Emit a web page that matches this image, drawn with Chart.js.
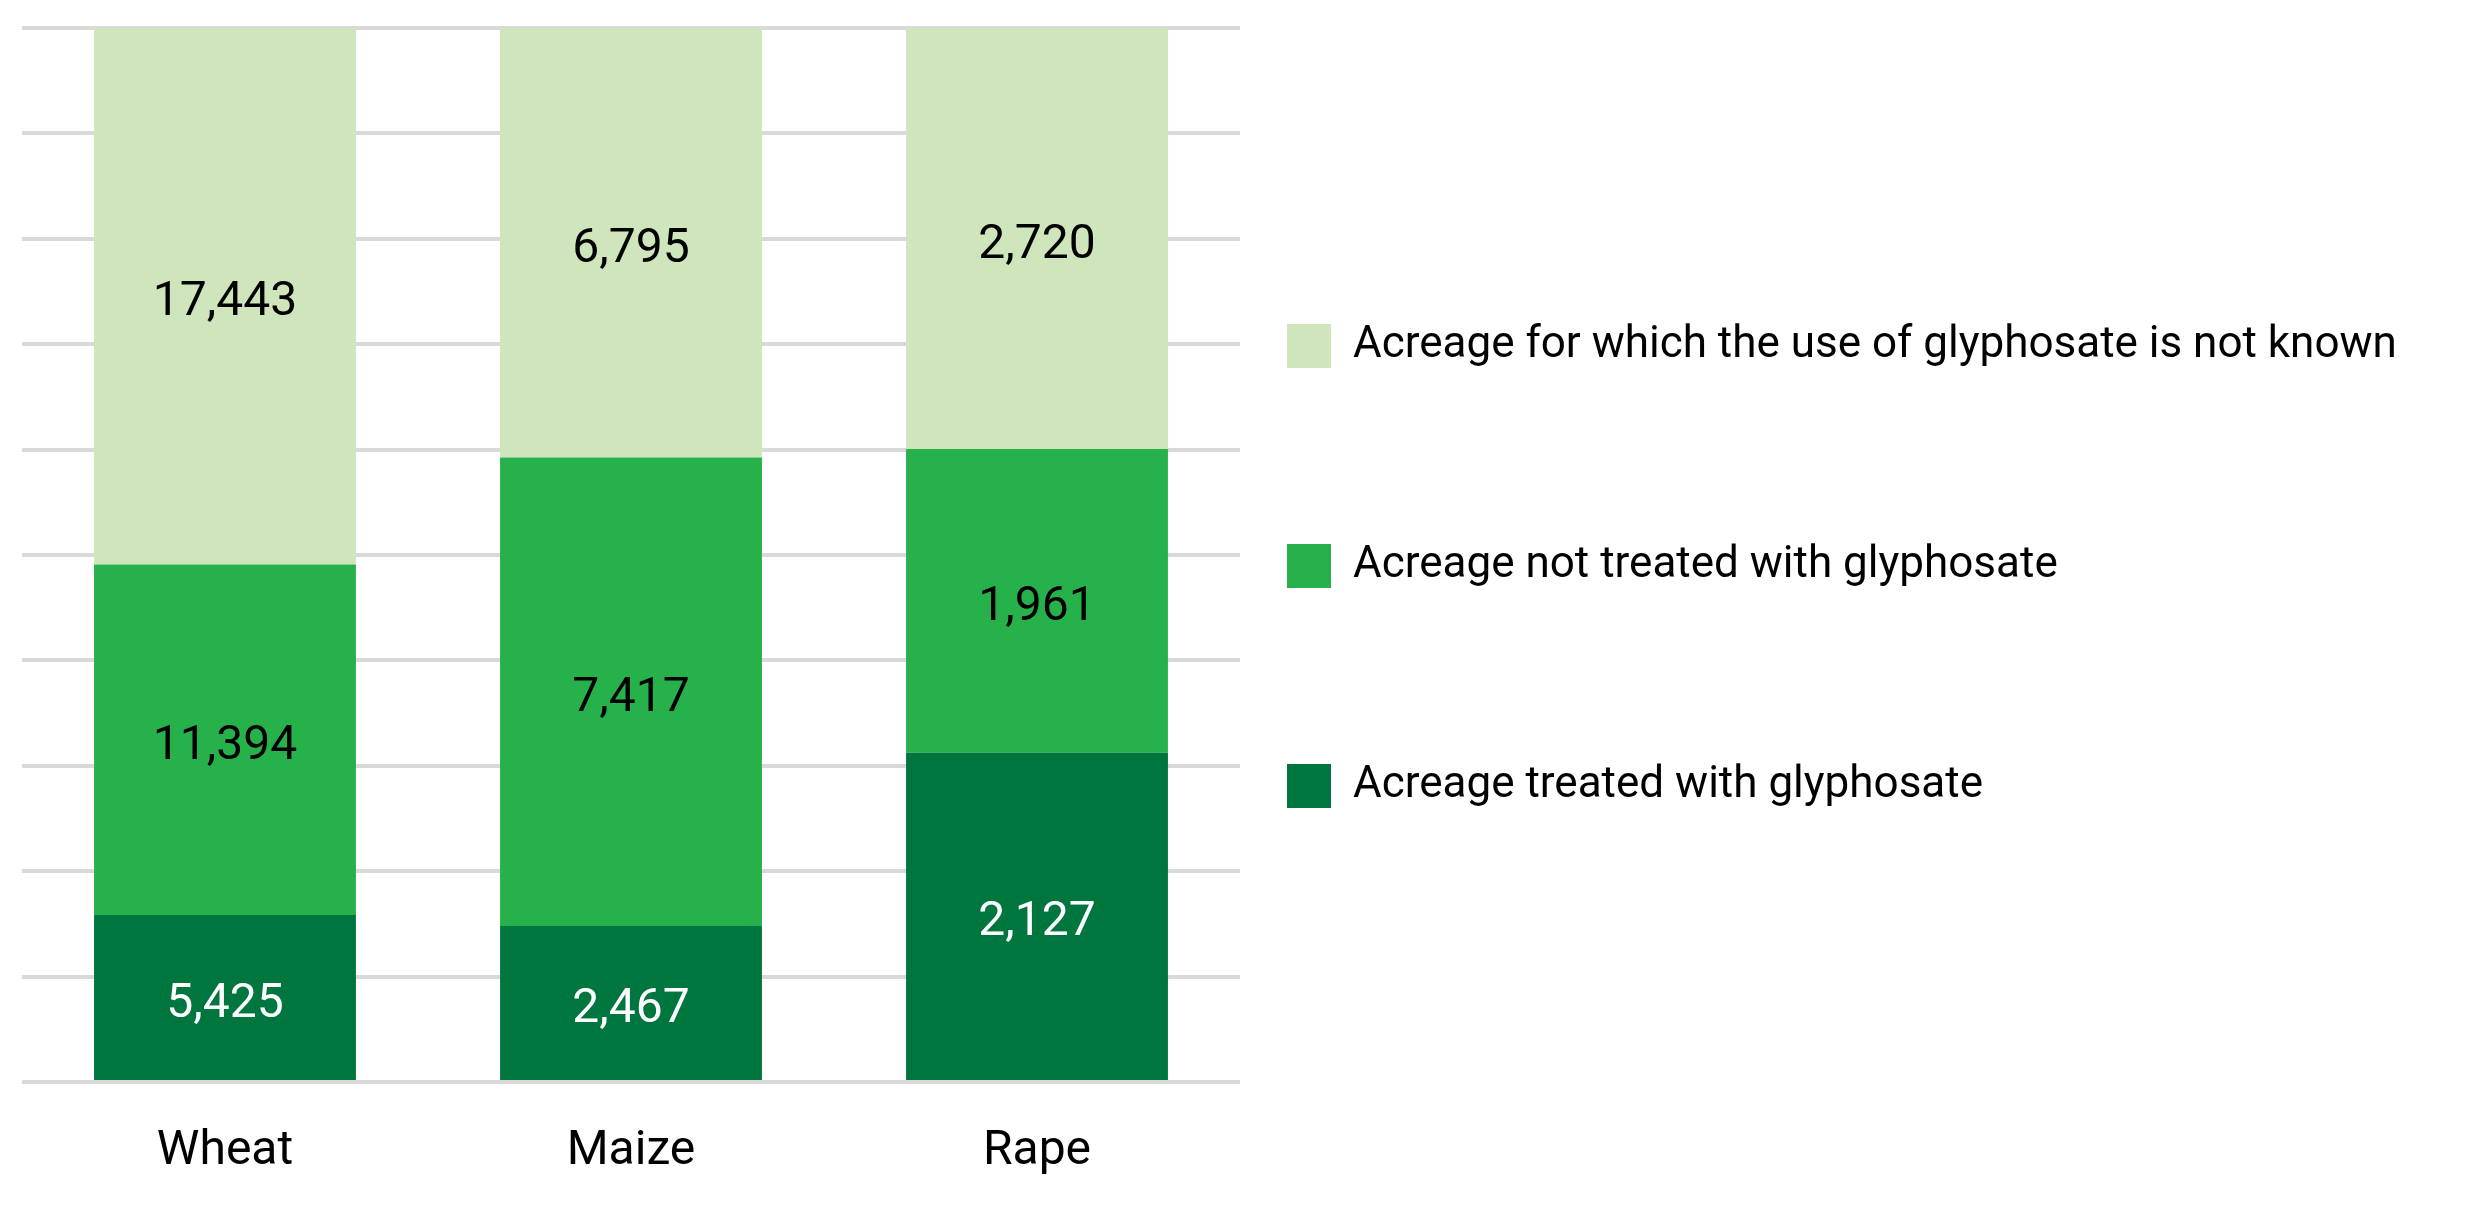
<!DOCTYPE html>
<html>
<head>
<meta charset="utf-8">
<script src="https://cdn.jsdelivr.net/npm/chart.js@4.4.1/dist/chart.umd.min.js"></script>
<style>
    body{ margin: 0; background: #fff; }
    #wrap{ width: 2470px; height: 1206px; position: relative; }
</style>
</head>
<body>
<div id="wrap"><canvas id="chart"></canvas></div>
<script>
const crops = ['Wheat', 'Maize', 'Rape'];
const treated = [5425, 2467, 2127];
const notTreated = [11394, 7417, 1961];
const unknown = [17443, 6795, 2720];
const yTicks = [0, 10, 20, 30, 40, 50, 60, 70, 80, 90, 100];

const labelNames = [
    'Acreage treated with glyphosate',
    'Acreage not treated with glyphosate',
    'Acreage for which the use of glyphosate is not known'
];

const totals = crops.map((c, i) => treated[i] + notTreated[i] + unknown[i]);
function share(arr){
    return arr.map((v, i) => v / totals[i] * 100);
}

const FONT = 'Roboto';
const SIZE = 48;
const LEGEND_SIZE = 44;

// width of the longest legend text, so the plot ends where the reference does
const mctx = document.createElement('canvas').getContext('2d');
mctx.font = LEGEND_SIZE + 'px ' + FONT;
const textW = Math.max(...labelNames.map(t => mctx.measureText(t).width));
const legendGap = 47;
const padRight = Math.max(0, 2470 - 1240 - (legendGap + 44 + LEGEND_SIZE / 2 + textW + 10));

const valueLabels = {
    id: 'valueLabels',
    afterDatasetsDraw(chart){
        const ctx = chart.ctx;
        ctx.save();
        ctx.font = SIZE + 'px ' + FONT;
        ctx.textAlign = 'center';
        ctx.textBaseline = 'middle';
        chart.data.datasets.forEach((ds, i) => {
            const meta = chart.getDatasetMeta(i);
            ctx.fillStyle = ds.labelColor;
            meta.data.forEach((bar, j) => {
                const p = bar.getCenterPoint();
                ctx.fillText(ds.raw[j].toLocaleString('en-US'), p.x, p.y + 7);
            });
        });
        ctx.restore();
    }
};

Chart.defaults.font.family = FONT;
Chart.defaults.color = '#000';

new Chart('chart', {
    type: 'bar',
    data: {
        labels: crops,
        datasets: [
            {
                label: labelNames[0],
                raw: treated,
                data: share(treated),
                backgroundColor: '#00763f',
                labelColor: '#fff'
            },
            {
                label: labelNames[1],
                raw: notTreated,
                data: share(notTreated),
                backgroundColor: '#26b14b',
                labelColor: '#000'
            },
            {
                label: labelNames[2],
                raw: unknown,
                data: share(unknown),
                backgroundColor: '#cfe5bb',
                labelColor: '#000'
            }
        ]
    },
    options: {
        responsive: true,
        maintainAspectRatio: false,
        animation: false,
        devicePixelRatio: 1,
        layout: {
            padding: { left: 22, top: 28, bottom: 0, right: padRight }
        },
        datasets: {
            bar: {
                barPercentage: 0.645,
                categoryPercentage: 1,
                borderWidth: 0
            }
        },
        scales: {
            x: {
                stacked: true,
                grid: { display: false, drawTicks: false },
                border: { display: false },
                ticks: { font: { size: SIZE }, padding: 41, maxRotation: 0 },
                afterFit(axis){
                    axis.height = 124;
                }
            },
            y: {
                stacked: true,
                min: yTicks[0],
                max: yTicks[yTicks.length - 1],
                afterBuildTicks(axis){
                    axis.ticks = yTicks.map(v => ({ value: v }));
                },
                border: { display: false },
                grid: { color: '#d9d9d9', lineWidth: 4, drawTicks: false },
                ticks: { display: false }
            }
        },
        plugins: {
            tooltip: { enabled: false },
            legend: {
                position: 'right',
                align: 'start',
                fullSize: false,
                reverse: true,
                maxWidth: 2400,
                title: {
                    display: true,
                    text: ' ',
                    padding: 0,
                    font: { size: 10, lineHeight: '249px' }
                },
                labels: {
                    boxWidth: 44,
                    boxHeight: 44,
                    padding: legendGap,
                    font: { size: LEGEND_SIZE, lineHeight: '173px' },
                    generateLabels(chart){
                        const items = Chart.defaults.plugins.legend.labels.generateLabels(chart);
                        items.forEach(it => { it.text = [it.text]; it.lineWidth = 0; });
                        return items;
                    }
                }
            }
        }
    },
    plugins: [valueLabels]
});
</script>
</body>
</html>
